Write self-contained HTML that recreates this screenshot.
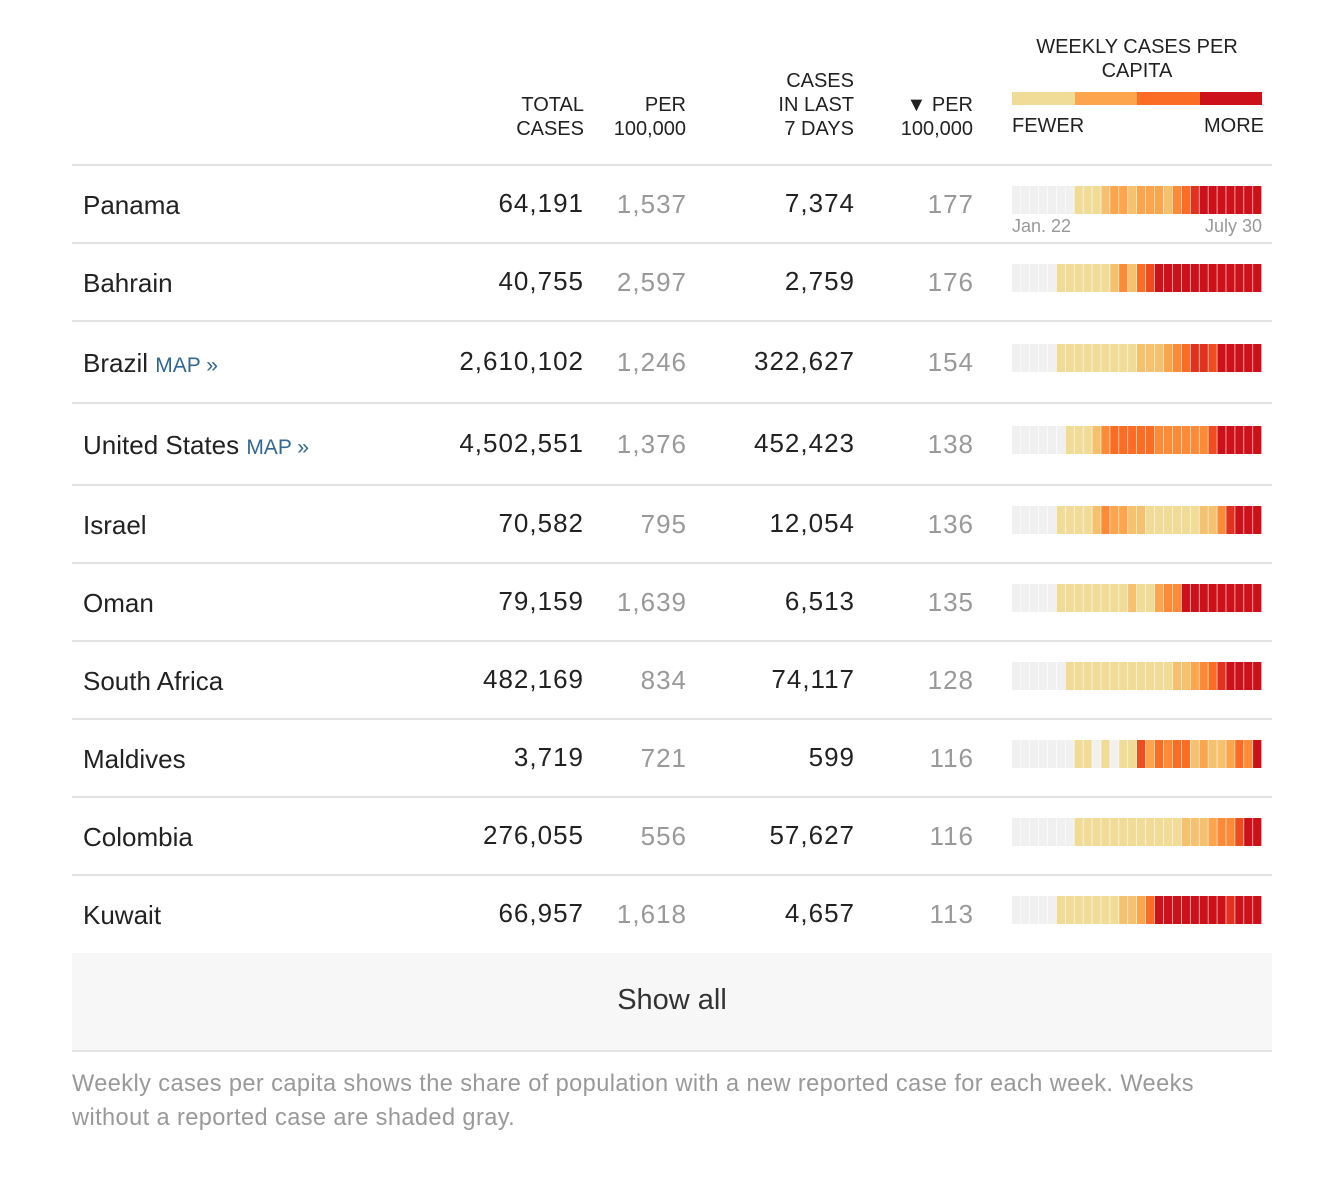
<!DOCTYPE html>
<html><head><meta charset="utf-8">
<style>
body{margin:0;width:1320px;height:1184px;background:#fff;font-family:"Liberation Sans",Arial,sans-serif;color:#222;position:relative;overflow:hidden}
.a{position:absolute}
.h{font-size:20px;line-height:24px;color:#222;text-align:right}
.line{position:absolute;left:72px;width:1200px;height:2px;background:#e2e2e2}
.name{position:absolute;left:83px;font-size:26px}
.num{position:absolute;font-size:26px;text-align:right;width:200px;letter-spacing:1px}
.gr{color:#999}
.map{color:#326891;font-size:21px}
</style></head><body>
<div class="a h" style="right:736px;top:93px">TOTAL<br>CASES</div>
<div class="a h" style="right:634px;top:93px">PER<br>100,000</div>
<div class="a h" style="right:466px;top:69px">CASES<br>IN LAST<br>7 DAYS</div>
<div class="a h" style="right:347px;top:93px">▼ PER<br>100,000</div>
<div class="a" style="left:1012px;width:250px;top:35px;font-size:20px;line-height:24px;text-align:center">WEEKLY CASES PER<br>CAPITA</div>
<div class="a" style="left:1012px;top:92px;width:250px;height:13px;display:flex">
<div style="flex:1;background:#f0dc96"></div><div style="flex:1;background:#fca54c"></div><div style="flex:1;background:#fb6c24"></div><div style="flex:1;background:#cc111b"></div></div>
<div class="a" style="left:1012px;top:115px;font-size:20px">FEWER</div>
<div class="a" style="right:56px;top:115px;font-size:20px">MORE</div>
<div class="line" style="top:164px"></div>
<div id="rows"></div>
<div class="a" style="left:72px;top:953px;width:1200px;height:97px;background:#f7f7f7;border-bottom:2px solid #e2e2e2;font-size:29px;text-align:center;line-height:94px;color:#333">Show all</div>
<div class="a" style="left:72px;top:1067px;width:1200px;font-size:23.6px;letter-spacing:0.4px;line-height:34px;color:#999">Weekly cases per capita shows the share of population with a new reported case for each week. Weeks without a reported case are shaded gray.</div>
<script>
const countries=["Panama","Bahrain","Brazil","United States","Israel","Oman","South Africa","Maldives","Colombia","Kuwait"];
const hasMap=[false,false,true,true,false,false,false,false,false,false];
const totalCases=["64,191","40,755","2,610,102","4,502,551","70,582","79,159","482,169","3,719","276,055","66,957"];
const per100k=["1,537","2,597","1,246","1,376","795","1,639","834","721","556","1,618"];
const cases7=["7,374","2,759","322,627","452,423","12,054","6,513","74,117","599","57,627","4,657"];
const per100k7=["177","176","154","138","136","135","128","116","116","113"];
const weekly=[
"0000000111233233324578888888",
"0000011111124256888888888888",
"0000011111111122234577688888",
"0000001112455555444444688888",
"0000011112433221111112247888",
"0000011111111211344888888888",
"0000001111111111112234578888",
"0000000110101163545523223548",
"0000000111111111111222344688",
"0000011111112235888888887888"];
const colors=["#f0f0f0","#f0dc96","#f6c16f","#fca54c","#fd8a36","#fb6c24","#f04d1f","#e0321e","#cc111b"];
const root=document.getElementById('rows');
let y=165;
countries.forEach((c,i)=>{
  const h=hasMap[i]?82:78;
  const row=document.createElement('div');
  
  
  row.className='a';row.style.cssText=`left:0;top:${y}px;width:1320px;height:${h}px`;
  const ty=h/2-14;
  row.innerHTML=`<div class="name" style="top:${ty}px">${c}${hasMap[i]?' <span class="map">MAP »</span>':''}</div>
<div class="num" style="left:384px;top:${ty-2}px">${totalCases[i]}</div>
<div class="num gr" style="left:487px;top:${ty-1}px">${per100k[i]}</div>
<div class="num" style="left:655px;top:${ty-2}px">${cases7[i]}</div>
<div class="num gr" style="left:774px;top:${ty-1}px">${per100k7[i]}</div>`;
  const svgNS='http://www.w3.org/2000/svg';
  const svg=document.createElementNS(svgNS,'svg');
  
  
  svg.setAttribute('width','250');svg.setAttribute('height','28');
  svg.style.cssText=`position:absolute;left:1012px;top:${h/2-18}px`;
  const n=weekly[i].length, w=250/n;
  [...weekly[i]].forEach((d,k)=>{
    const r=document.createElementNS(svgNS,'rect');
    
    
    r.setAttribute('x',k*w);r.setAttribute('y',0);r.setAttribute('width',w-0.6);r.setAttribute('height',28);
    r.setAttribute('fill',colors[+d]);svg.appendChild(r);
  });
  row.appendChild(svg);
  if(i===0){
    row.insertAdjacentHTML('beforeend','<div class="a" style="left:1012px;top:51px;font-size:18px;color:#999">Jan. 22</div><div class="a" style="right:58px;top:51px;font-size:18px;color:#999">July 30</div>');
  }
  root.appendChild(row);
  y+=h;
  if(i<countries.length-1){
    const l=document.createElement('div');
    
    
    l.className='line';l.style.top=(y-1)+'px';root.appendChild(l);
  }
});
</script>
</body></html>
